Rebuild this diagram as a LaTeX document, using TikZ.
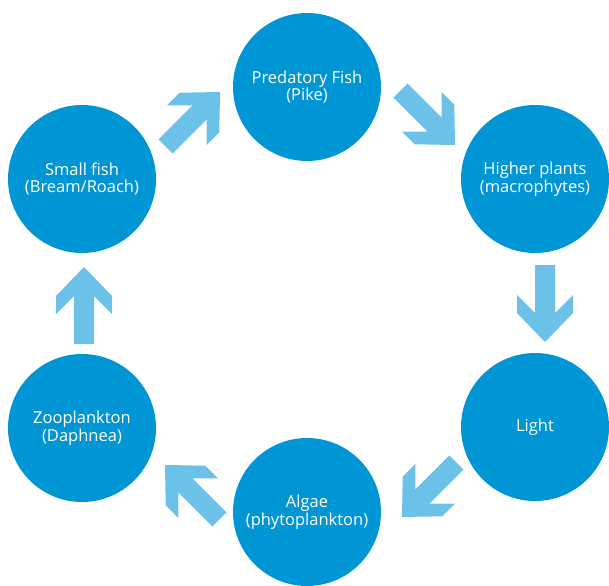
\documentclass[tikz,border=0pt]{standalone}
\usepackage{fontspec}
\setmainfont{Open Sans}
\definecolor{circblue}{RGB}{0,150,214}
\definecolor{arrblue}{RGB}{107,193,232}
\begin{document}
\begin{tikzpicture}[x=1pt,y=-1pt,
  stage/.style={circle, fill=circblue, minimum size=148pt, inner sep=0pt,
    text=white, font=\fontsize{16.5}{17.5}\selectfont, align=center},
  flowarrow/.pic={\fill[arrblue] (0,0) -- (-29,28) -- (-47,28) -- (-29,10) -- (-77,10)
    -- (-77,-10) -- (-29,-10) -- (-47,-28) -- (-29,-28) -- cycle;}]
\useasboundingbox (0,0) rectangle (609,585);
\node[stage] (pf) at (307,87) {Predatory Fish\\(Pike)};
\node[stage] (hp) at (535,179) {Higher plants\\(macrophytes)};
\node[stage] (lt) at (535,427) {Light};
\node[stage] (al) at (307,512) {Algae\\(phytoplankton)};
\node[stage] (zp) at (82,428) {Zooplankton\\(Daphnea)};
\node[stage] (sf) at (82,179) {Small fish\\(Bream/Roach)};
\coordinate (t1) at (220,92);
\coordinate (t2) at (455,145);
\coordinate (t3) at (545,342);
\coordinate (t4) at (402,517);
\coordinate (t5) at (165,465);
\coordinate (t6) at (84,267);
\pic[rotate=45] at (t1) {flowarrow};
\pic[rotate=-45] at (t2) {flowarrow};
\pic[rotate=-90] at (t3) {flowarrow};
\pic[rotate=-135] at (t4) {flowarrow};
\pic[rotate=135] at (t5) {flowarrow};
\pic[rotate=90] at (t6) {flowarrow};
\end{tikzpicture}
\end{document}
